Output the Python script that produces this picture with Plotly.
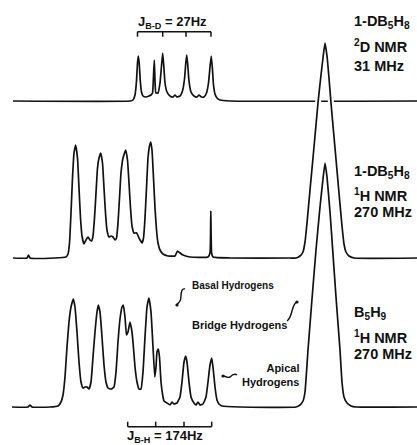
import plotly.graph_objects as go

# ---- data (x: shift position, h: intensity above baseline) ----
top_x = [13,130,133,135,136.5,137.5,138.3,139.2,140.3,141.5,143,146,149,151,152.5,153.5,154.3,155,155.8,157,
         158,160,161.5,162.7,163.8,165,167,170,173,175,177,180,182.5,184.5,185.8,186.7,187.6,189,191,194,
         197,199,201.5,204,206.5,208.5,210,211.2,212.3,213.5,215,217,220,230,417]
top_h = [0,0,1,6,20,38,45,38,20,9,5,4,5,6,8,25,41,20,8,8,
         8,18,35,48,35,18,9,5,4,6,4,5,10,22,38,46,38,20,9,5,
         4,6,4,4,8,18,34,45,34,16,7,3,1,0,0]

mid_x = [13,27,28.5,30,55,66,68,69.5,71,72.5,74,75.7,77.5,79,80.5,82,84,86,88,90,
         91.5,93,94.5,96,97.5,99,100.7,102.5,104,105.5,107,109,111,113,115,116.5,118,119.5,121,123,
         125.7,127.5,129,130.5,132,134,136.7,139,142,143.5,145,146.5,148,149.5,150.7,152,153.5,155,156.5,158,
         160,163,168,175,177.5,180,183,190,208,210,210.8,211.6,213,230,290,296,300,303,305,307,
         310,313,318,321,323,325,327,329,331,335,339,342,344,346,349,354,417]
mid_h = [0,0,3,0,0,1,4,15,45,80,105,113,100,70,40,22,14,18,21,18,
         17,22,40,65,90,100,105,95,70,45,28,21,22,21,18,20,35,60,85,100,
         108,98,75,50,32,25,25,20,15,20,40,70,100,112,116,108,80,50,28,15,
         8,4,2,2,7,5,3,1,1,5,47,5,1,0,0,0,2,6,16,35,
         68,100,155,183,200,215,202,180,155,110,65,32,14,6,2,0,0]

bot_x = [12,28,30,32,50,58,61,63,65,67,69,71,73.3,75,77,79,81,83,85,87,
         89,91,93,95,97,98.3,100,102,104,106,108,111,114,116,118,120,122,123.3,125,126.5,
         128,130,131.7,133,135,137,139,141,143,145,147,149,151,153,154.8,156,157,158.3,159.5,161,
         163,164,167,170,172,174,177,180,182,184,185.7,187,189,191,194,196,198,200,203,206,
         208,210,211.7,213,215,217,219,222,240,296,300,303,305,308,312,316,320,323,325,327,
         330,332.7,336,340,342,344,347,351,356,417]
bot_h = [0,0,2,0,0,1,5,12,30,60,85,100,108,100,75,45,25,19,20,20,
         18,25,50,75,95,102,95,70,42,25,19,18,20,35,65,88,100,102,90,72,
         75,85,77,65,40,25,18,18,35,70,100,109,95,60,30,40,55,58,50,25,
         10,6,4,2,5,3,4,10,25,45,51,45,25,10,4,2,5,2,3,10,
         25,42,49,40,20,7,3,1,0,0,2,6,15,57,108,157,200,228,244,230,
         195,157,110,57,25,10,4,1,0,0]

jbd_ticks = [137.5, 162.7, 186.0, 211.0]
jbh_ticks = [127.7, 155.7, 184.0, 211.7]

labels_top = ["1-DB<sub>5</sub>H<sub>8</sub>", "<sup>2</sup>D NMR", "31 MHz"]
labels_mid = ["1-DB<sub>5</sub>H<sub>8</sub>", "<sup>1</sup>H NMR", "270 MHz"]
labels_bot = ["B<sub>5</sub>H<sub>9</sub>", "<sup>1</sup>H NMR", "270 MHz"]
jbd_text = "J<sub>B-D</sub> = 27Hz"
jbh_text = "J<sub>B-H</sub> = 174Hz"
assign_texts = ["Basal Hydrogens", "Bridge Hydrogens", "Apical<br>Hydrogens"]

# ---- layout / style ----
W, H = 417, 445
baselines = {"y2": 101, "y3": 258, "y4": 407}   # pixel rows of baselines
INK = "#111111"
FONT = "Liberation Sans Narrow, Liberation Sans, Arial"

fig = go.Figure()
line_style = dict(color=INK, width=1.7, shape="spline", smoothing=0.4)
fig.add_trace(go.Scatter(x=top_x, y=top_h, yaxis="y2", mode="lines", line=line_style, hoverinfo="skip"))
fig.add_trace(go.Scatter(x=mid_x, y=mid_h, yaxis="y3", mode="lines",
                         line=dict(color="white", width=6, shape="spline", smoothing=0.4), hoverinfo="skip"))
fig.add_trace(go.Scatter(x=mid_x, y=mid_h, yaxis="y3", mode="lines", line=line_style, hoverinfo="skip"))
fig.add_trace(go.Scatter(x=bot_x, y=bot_h, yaxis="y4", mode="lines", line=line_style, hoverinfo="skip"))

ax_hidden = dict(visible=False, showgrid=False, zeroline=False, fixedrange=True)
layout_axes = {
    "xaxis": dict(range=[0, W], **ax_hidden),
    "yaxis": dict(range=[H, 0], **ax_hidden),
}
for name, py in baselines.items():
    layout_axes["yaxis" + name[1:]] = dict(range=[py - H, py], overlaying="y", **ax_hidden)

shapes = []
def bracket(ticks, yline, ytick):
    shapes.append(dict(type="line", xref="x", yref="y", x0=ticks[0], x1=ticks[-1], y0=yline, y1=yline,
                       line=dict(color=INK, width=1.5)))
    for t in ticks:
        shapes.append(dict(type="line", xref="x", yref="y", x0=t, x1=t, y0=yline, y1=ytick,
                           line=dict(color=INK, width=1.5)))
bracket(jbd_ticks, 31.7, 36.7)
bracket(jbh_ticks, 426.7, 421.7)

# curly leader lines
squiggles = [
    "M 185,289 C 182,288 181,292 181,296 C 181,300 179,303 177,304",
    "M 287,321 C 290,319 291,315 292,311 C 293,307 294,303 297,302",
    "M 237,375 C 234,373 232,375 230,377 C 228,378 226,377 224,376",
]
for p in squiggles:
    shapes.append(dict(type="path", xref="x", yref="y", path=p, line=dict(color=INK, width=1.4)))
for (cx, cy) in [(177, 305), (297, 302), (223, 376)]:
    shapes.append(dict(type="circle", xref="x", yref="y", x0=cx-1.6, x1=cx+1.6, y0=cy-1.6, y1=cy+1.6,
                       fillcolor=INK, line=dict(color=INK, width=0)))

annotations = []
def ann(text, x, y, size, xanchor="left", yanchor="middle", align="left"):
    annotations.append(dict(text=text, x=x, y=y, xref="x", yref="y", showarrow=False,
                            xanchor=xanchor, yanchor=yanchor, align=align,
                            font=dict(family=FONT, size=size, color=INK)))

for labels, ys in [(labels_top, [22, 46, 66]), (labels_mid, [172, 195, 212]), (labels_bot, [313, 337, 354])]:
    for t, y in zip(labels, ys):
        ann("<b>" + t + "</b>", 352, y, 14.5)

ann("<b>" + jbd_text + "</b>", 172, 22, 13, xanchor="center")
ann("<b>" + jbh_text + "</b>", 165, 436, 13, xanchor="center")
ann("<b>" + assign_texts[0] + "</b>", 190, 285, 10)
ann("<b>" + assign_texts[1] + "</b>", 190, 325, 11)
ann("<b>" + assign_texts[2] + "</b>", 270, 375, 11, xanchor="center", align="right")

fig.update_layout(width=W, height=H, margin=dict(l=0, r=0, t=0, b=0),
                  paper_bgcolor="white", plot_bgcolor="white", showlegend=False,
                  shapes=shapes, annotations=annotations, **layout_axes)

fig.write_html("out.html")
